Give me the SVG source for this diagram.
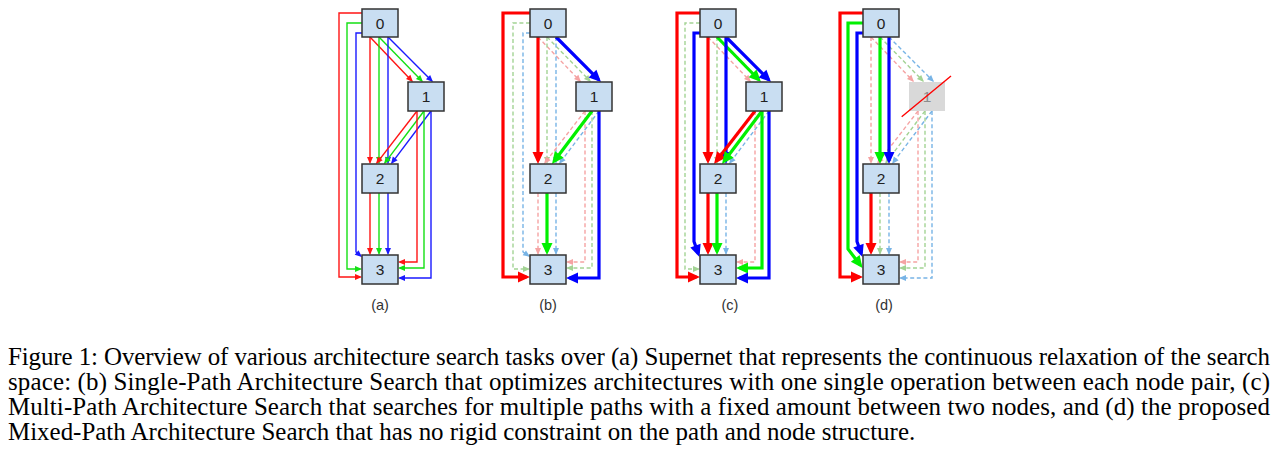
<svg xmlns="http://www.w3.org/2000/svg" width="1280" height="455" viewBox="0 0 1280 455">
<style>
.t,.k,.d{fill:none}
.t{stroke-width:1.4}
.k{stroke-width:3.2}
.d{stroke-width:1.4;stroke-dasharray:4 2.6}
.t.r{stroke:#ff1414;marker-end:url(#mtr)}
.t.g{stroke:#14e014;marker-end:url(#mtg)}
.t.b{stroke:#1a1aff;marker-end:url(#mtb)}
.k.r{stroke:#ff0000;marker-end:url(#mkr)}
.k.g{stroke:#00f000;marker-end:url(#mkg)}
.k.b{stroke:#0000ff;marker-end:url(#mkb)}
.d.r{stroke:#f5a3a3;marker-end:url(#mdr)}
.d.g{stroke:#a3d394;marker-end:url(#mdg)}
.d.b{stroke:#78b4e6;marker-end:url(#mdb)}
.box{fill:#c9def2;stroke:#333;stroke-width:1.5}
.off{fill:#d9d9d9;stroke:none}
.nl{font-family:"Liberation Sans",Arial,sans-serif;font-size:15.5px;fill:#222;text-anchor:middle}
.nloff{fill:#8c8c8c}
.pl{font-family:"Liberation Sans",Arial,sans-serif;font-size:14.5px;fill:#333;text-anchor:middle}
.cap{font-family:"Liberation Serif","Times New Roman",serif;font-size:24.95px;fill:#000}
</style>
<defs>
<marker id="mtr" markerUnits="userSpaceOnUse" orient="auto" markerWidth="1" markerHeight="1" style="overflow:visible"><path d="M-5.5,-3L1.5,0L-5.5,3z" fill="#ff1414"/></marker>
<marker id="mtg" markerUnits="userSpaceOnUse" orient="auto" markerWidth="1" markerHeight="1" style="overflow:visible"><path d="M-5.5,-3L1.5,0L-5.5,3z" fill="#14e014"/></marker>
<marker id="mtb" markerUnits="userSpaceOnUse" orient="auto" markerWidth="1" markerHeight="1" style="overflow:visible"><path d="M-5.5,-3L1.5,0L-5.5,3z" fill="#1a1aff"/></marker>
<marker id="mkr" markerUnits="userSpaceOnUse" orient="auto" markerWidth="1" markerHeight="1" style="overflow:visible"><path d="M-8.5,-5.5L3.5,0L-8.5,5.5z" fill="#ff0000"/></marker>
<marker id="mkg" markerUnits="userSpaceOnUse" orient="auto" markerWidth="1" markerHeight="1" style="overflow:visible"><path d="M-8.5,-5.5L3.5,0L-8.5,5.5z" fill="#00f000"/></marker>
<marker id="mkb" markerUnits="userSpaceOnUse" orient="auto" markerWidth="1" markerHeight="1" style="overflow:visible"><path d="M-8.5,-5.5L3.5,0L-8.5,5.5z" fill="#0000ff"/></marker>
<marker id="mdr" markerUnits="userSpaceOnUse" orient="auto" markerWidth="1" markerHeight="1" style="overflow:visible"><path d="M-5.5,-3L1.5,0L-5.5,3z" fill="#f5a3a3"/></marker>
<marker id="mdg" markerUnits="userSpaceOnUse" orient="auto" markerWidth="1" markerHeight="1" style="overflow:visible"><path d="M-5.5,-3L1.5,0L-5.5,3z" fill="#a3d394"/></marker>
<marker id="mdb" markerUnits="userSpaceOnUse" orient="auto" markerWidth="1" markerHeight="1" style="overflow:visible"><path d="M-5.5,-3L1.5,0L-5.5,3z" fill="#78b4e6"/></marker>
</defs>
<rect width="1280" height="455" fill="#fff"/>

<g id="connectors">
 <g id="edges-a" transform="translate(362,0)">
  <path class="t r" d="M0,13H-23V277H-1.5"/>
  <path class="t g" d="M0,23H-15V269H-1.5"/>
  <path class="t b" d="M0,33H-6V252L-1.15,256"/>
  <path class="t r" d="M8,37L49.96,80.92"/>
  <path class="t g" d="M17,37L59.95,80.93"/>
  <path class="t b" d="M26,37L69.94,80.94"/>
  <path class="t r" d="M8,37V162.5"/>
  <path class="t g" d="M17,37V162.5"/>
  <path class="t b" d="M26,37V162.5"/>
  <path class="t r" d="M55,111L14.92,162.81"/>
  <path class="t g" d="M62,111L22.9,162.8"/>
  <path class="t b" d="M69,111L29.9,162.8"/>
  <path class="t r" d="M55,111V262H37.5"/>
  <path class="t g" d="M62,111V268H37.5"/>
  <path class="t b" d="M69,111V278H37.5"/>
  <path class="t r" d="M8,193V253.5"/>
  <path class="t g" d="M17,193V253.5"/>
  <path class="t b" d="M26,193V253.5"/>
 </g>
 <g id="edges-b" transform="translate(530,0)">
  <path class="d g" d="M0,23H-17V269H-1.5"/>
  <path class="d b" d="M0,33H-7V252L-1.15,256"/>
  <path class="d r" d="M8,37L49.96,80.92"/>
  <path class="d g" d="M17,37L59.95,80.93"/>
  <path class="d g" d="M17,37V162.5"/>
  <path class="d b" d="M26,37V162.5"/>
  <path class="d r" d="M55,111L14.92,162.81"/>
  <path class="d b" d="M69,111L29.9,162.8"/>
  <path class="d r" d="M55,111V262H37.5"/>
  <path class="d g" d="M62,111V268H37.5"/>
  <path class="d r" d="M8,193V253.5"/>
  <path class="d b" d="M26,193V253.5"/>
  <path class="k r" d="M0,13H-27V277H-3.5"/>
  <path class="k b" d="M26,37L68.53,79.53"/>
  <path class="k r" d="M8,37V160.5"/>
  <path class="k g" d="M62,111L24.1,161.2"/>
  <path class="k b" d="M69,111V278H39.5"/>
  <path class="k g" d="M17,193V251.5"/>
 </g>
 <g id="edges-c" transform="translate(700,0)">
  <path class="d g" d="M0,23H-15V269H-1.5"/>
  <path class="d r" d="M8,37L49.96,80.92"/>
  <path class="d g" d="M17,37V162.5"/>
  <path class="d b" d="M69,111L29.9,162.8"/>
  <path class="d r" d="M55,111V262H37.5"/>
  <path class="d b" d="M26,193V253.5"/>
  <path class="k r" d="M0,13H-23V277H-3.5"/>
  <path class="k b" d="M0,33H-6V241.5L-1.7,253.7"/>
  <path class="k g" d="M17,37L58.55,79.5"/>
  <path class="k b" d="M26,37L68.53,79.53"/>
  <path class="k r" d="M8,37V160.5"/>
  <path class="k b" d="M26,37V160.5"/>
  <path class="k r" d="M55,111L16.14,161.23"/>
  <path class="k g" d="M62,111L24.1,161.2"/>
  <path class="k g" d="M62,111V268H39.5"/>
  <path class="k b" d="M69,111V278H39.5"/>
  <path class="k r" d="M8,193V251.5"/>
  <path class="k g" d="M17,193V251.5"/>
 </g>
 <g id="edges-d" transform="translate(863,0)">
  <path class="d r" d="M8,37L49.96,80.92"/>
  <path class="d g" d="M17,37L59.95,80.93"/>
  <path class="d b" d="M26,37L69.94,80.94"/>
  <path class="d r" d="M8,37V162.5"/>
  <path class="d r" d="M55,111L14.92,162.81"/>
  <path class="d g" d="M62,111L22.9,162.8"/>
  <path class="d b" d="M69,111L29.9,162.8"/>
  <path class="d r" d="M55,111V262H37.5"/>
  <path class="d g" d="M62,111V268H37.5"/>
  <path class="d b" d="M69,111V278H37.5"/>
  <path class="d g" d="M17,193V253.5"/>
  <path class="d b" d="M26,193V253.5"/>
  <path class="k r" d="M0,13H-23V277H-3.5"/>
  <path class="k g" d="M0,23H-15V249L-2.6,265.2"/>
  <path class="k b" d="M0,33H-6V241.5L-1.7,253.7"/>
  <path class="k g" d="M17,37V160.5"/>
  <path class="k b" d="M26,37V160.5"/>
  <path class="k r" d="M8,193V251.5"/>
 </g>
</g>

<g id="nodes-a" transform="translate(362,0)">
 <g id="a-n0"><rect class="box" x="0" y="9" width="36" height="28"/><text class="nl" x="18" y="28.5">0</text></g>
 <g id="a-n1"><rect class="box" x="46" y="82" width="36" height="29"/><text class="nl" x="64" y="102">1</text></g>
 <g id="a-n2"><rect class="box" x="0" y="164" width="36" height="29"/><text class="nl" x="18" y="184">2</text></g>
 <g id="a-n3"><rect class="box" x="0" y="255" width="36" height="29"/><text class="nl" x="18" y="275">3</text></g>
 <text id="a-label" class="pl" x="18" y="310">(a)</text>
</g>
<g id="nodes-b" transform="translate(530,0)">
 <g id="b-n0"><rect class="box" x="0" y="9" width="36" height="28"/><text class="nl" x="18" y="28.5">0</text></g>
 <g id="b-n1"><rect class="box" x="46" y="82" width="36" height="29"/><text class="nl" x="64" y="102">1</text></g>
 <g id="b-n2"><rect class="box" x="0" y="164" width="36" height="29"/><text class="nl" x="18" y="184">2</text></g>
 <g id="b-n3"><rect class="box" x="0" y="255" width="36" height="29"/><text class="nl" x="18" y="275">3</text></g>
 <text id="b-label" class="pl" x="18" y="310">(b)</text>
</g>
<g id="nodes-c" transform="translate(700,0)">
 <g id="c-n0"><rect class="box" x="0" y="9" width="36" height="28"/><text class="nl" x="18" y="28.5">0</text></g>
 <g id="c-n1"><rect class="box" x="46" y="82" width="36" height="29"/><text class="nl" x="64" y="102">1</text></g>
 <g id="c-n2"><rect class="box" x="0" y="164" width="36" height="29"/><text class="nl" x="18" y="184">2</text></g>
 <g id="c-n3"><rect class="box" x="0" y="255" width="36" height="29"/><text class="nl" x="18" y="275">3</text></g>
 <text id="c-label" class="pl" x="30" y="310">(c)</text>
</g>
<g id="nodes-d" transform="translate(863,0)">
 <g id="d-n0"><rect class="box" x="0" y="9" width="36" height="28"/><text class="nl" x="18" y="28.5">0</text></g>
 <g id="d-n1"><rect class="off" x="46" y="82" width="36" height="29"/><text class="nl nloff" x="64" y="102">1</text><line x1="38.7" y1="116.7" x2="88" y2="76" stroke="#ff0000" stroke-width="1.4"/></g>
 <g id="d-n2"><rect class="box" x="0" y="164" width="36" height="29"/><text class="nl" x="18" y="184">2</text></g>
 <g id="d-n3"><rect class="box" x="0" y="255" width="36" height="29"/><text class="nl" x="18" y="275">3</text></g>
 <text id="d-label" class="pl" x="21" y="310">(d)</text>
</g>

<g id="caption">
 <text class="cap" x="8" y="365" textLength="1262" lengthAdjust="spacing">Figure 1: Overview of various architecture search tasks over (a) Supernet that represents the continuous relaxation of the search</text>
 <text class="cap" x="8" y="390" textLength="1262" lengthAdjust="spacing">space: (b) Single-Path Architecture Search that optimizes architectures with one single operation between each node pair, (c)</text>
 <text class="cap" x="8" y="415" textLength="1262" lengthAdjust="spacing">Multi-Path Architecture Search that searches for multiple paths with a fixed amount between two nodes, and (d) the proposed</text>
 <text class="cap" x="8" y="440">Mixed-Path Architecture Search that has no rigid constraint on the path and node structure.</text>
</g>
</svg>
